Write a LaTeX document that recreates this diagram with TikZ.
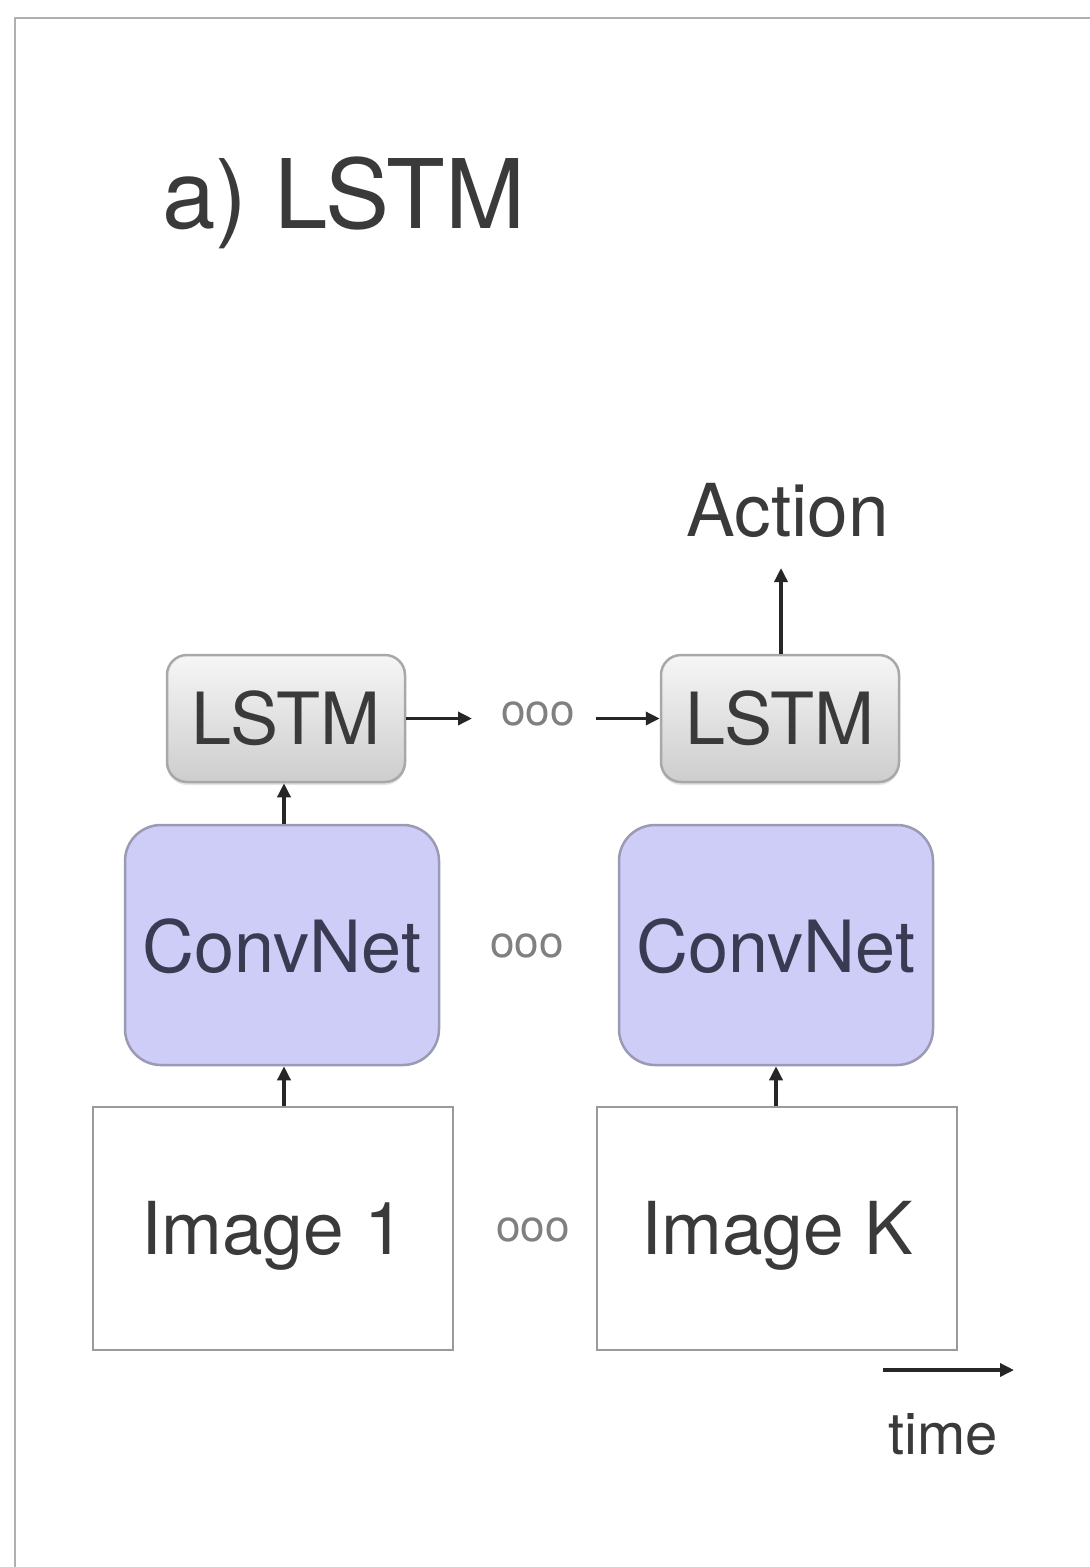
\documentclass[tikz,border=0pt]{standalone}
\usepackage{fontspec}
\setmainfont{TeX Gyre Heros}
\usetikzlibrary{arrows.meta,shadows}
\definecolor{framegray}{HTML}{B0B0B0}
\definecolor{txtgray}{HTML}{3A3A3A}
\definecolor{convfill}{HTML}{CDCDF8}
\definecolor{convdraw}{HTML}{9A9AB4}
\definecolor{convtxt}{HTML}{3A3A52}
\definecolor{lstmtop}{HTML}{F6F6F6}
\definecolor{lstmbot}{HTML}{CDCDCD}
\definecolor{lstmdraw}{HTML}{A8A8A8}
\definecolor{imgdraw}{HTML}{9A9A9A}
\definecolor{dotgray}{HTML}{808080}
\tikzset{
  lstmbox/.style={draw=lstmdraw, line width=2.5pt, rounded corners=20pt,
    top color=lstmtop, bottom color=lstmbot, minimum width=238pt, minimum height=127pt,
    inner sep=0pt, text=txtgray, font=\fontsize{72}{76}\selectfont,
    drop shadow={opacity=0.2, shadow xshift=0pt, shadow yshift=-3pt}},
  convbox/.style={draw=convdraw, line width=2.5pt, rounded corners=36pt, fill=convfill,
    minimum width=314pt, minimum height=240pt, inner sep=0pt, text=convtxt,
    font=\fontsize{72}{76}\selectfont},
  imgbox/.style={draw=imgdraw, line width=2.5pt, fill=white,
    minimum width=360pt, minimum height=243pt, inner sep=0pt, text=txtgray,
    font=\fontsize{73}{76}\selectfont},
  dots/.style={text=dotgray, font=\fontsize{44}{46}\selectfont, inner sep=0pt},
  conn/.style={line width=3.4pt, draw=black!85, -{Triangle[length=14pt,width=13pt]}},
  lbl/.style={text=txtgray, inner sep=0pt}
}
\begin{document}
\begin{tikzpicture}[x=1pt,y=-1pt]
\useasboundingbox (0,0) rectangle (1090,1567);
\fill[white] (0,0) rectangle (1090,1567);
% frame
\draw[framegray, line width=2pt] (15,1567) -- (15,18) -- (1090,18);
% title
\node[lbl, anchor=base west, font=\fontsize{96}{100}\selectfont] (title) at (162,228) {a) LSTM};
% LSTM row
\node[lstmbox] (l1) at (286,718.5) {LSTM};
\node[lstmbox] (l2) at (780,718.5) {LSTM};
\node[dots] (d1) at (538,714) {ooo};
% ConvNet row
\node[convbox] (c1) at (282,945) {\raisebox{-27pt}[0pt][0pt]{ConvNet}};
\node[convbox] (c2) at (776,945) {\raisebox{-27pt}[0pt][0pt]{ConvNet}};
\node[dots] (d2) at (527,946) {ooo};
% Image row
\node[imgbox] (i1) at (273,1228.5) {\raisebox{-26pt}[0pt][0pt]{Image 1}};
\node[imgbox] (i2) at (777,1228.5) {\raisebox{-26pt}[0pt][0pt]{Image K}};
\node[dots] (d3) at (533,1230) {ooo};
% action
\node[lbl, font=\fontsize{73}{76}\selectfont] (act) at (788,510) {Action};
\coordinate (acttip) at (781,568);
\coordinate (d1a) at (472,718.5);
\coordinate (d1b) at (596,718.5);
% connectors
\draw[conn] (l1.east) -- (d1a);
\draw[conn] (d1b) -- (l2.west);
\draw[conn] (l2.north -| acttip) -- (acttip);
\draw[conn] (c1.north -| 284,0) -- (l1.south -| 284,0);
\draw[conn] (i1.north -| 284,0) -- (c1.south -| 284,0);
\draw[conn] (i2.north -| 776,0) -- (c2.south -| 776,0);
% time
\coordinate (t0) at (883,1370);
\coordinate (t1) at (1014,1370);
\draw[conn] (t0) -- (t1);
\node[lbl, font=\fontsize{58}{60}\selectfont] (time) at (943,1434) {time};
\end{tikzpicture}
\end{document}
